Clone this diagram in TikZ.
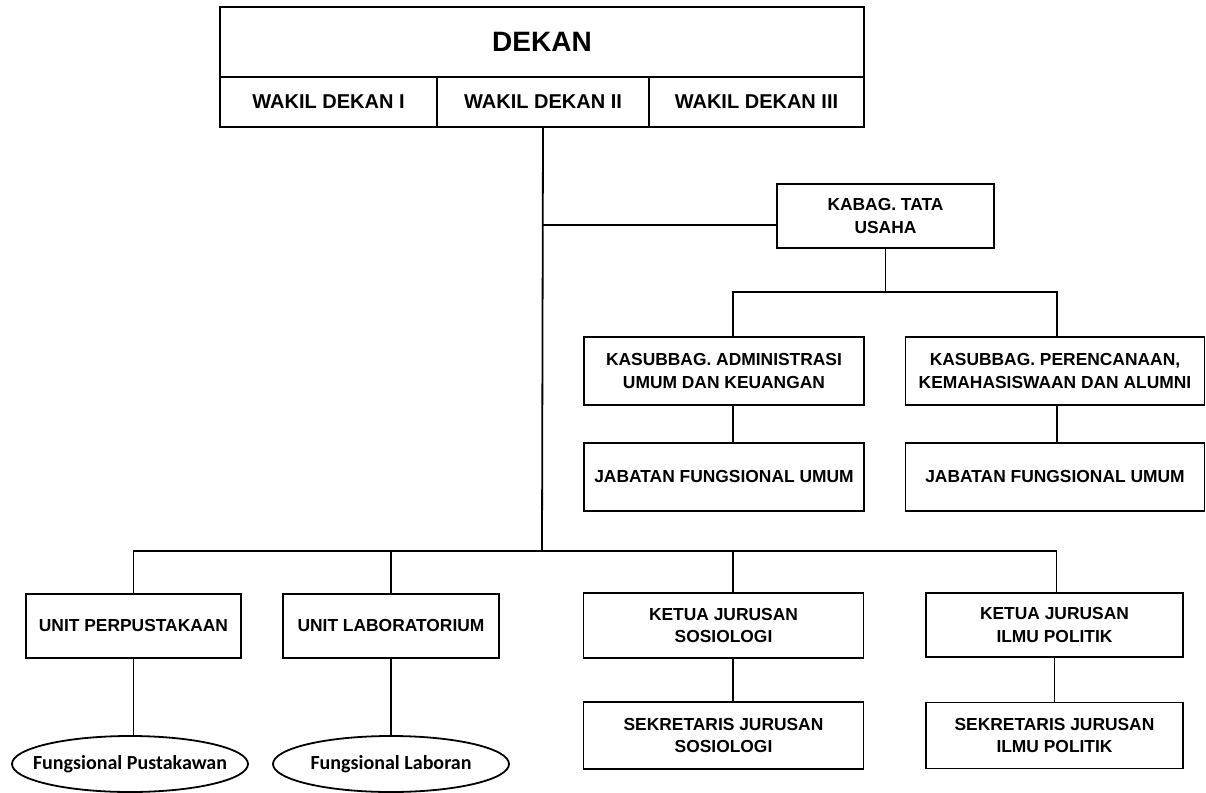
\documentclass[tikz,border=0pt]{standalone}
\usepackage{fontspec}
\setmainfont{Liberation Sans}
\newfontfamily\calibri{Carlito}
\usetikzlibrary{shapes.geometric}
\usetikzlibrary{calc}

\begin{document}
\begin{tikzpicture}[x=0.5pt,y=-0.5pt,-,line width=0.9pt]
	\tikzstyle{box}=[draw, rectangle, inner sep=0pt, align=center, font=\fontsize{8.7}{11.3}\selectfont\bfseries]
	\tikzstyle{fung}=[draw, ellipse, inner xsep=-8pt, inner ysep=0pt, font=\calibri\fontsize{10}{12}\selectfont\bfseries]
	\useasboundingbox (0,0) rectangle (1206,793);
	% pimpinan
	\node[box, minimum width=322pt, minimum height=35pt, font=\fontsize{14}{16}\selectfont\bfseries] (dekan) at (542,42) {DEKAN};
	\node[box, minimum width=108.5pt, minimum height=25pt, font=\fontsize{10}{12}\selectfont\bfseries] (wd1) at (328.5,102) {WAKIL DEKAN I};
	\node[box, minimum width=106pt, minimum height=25pt, font=\fontsize{10}{12}\selectfont\bfseries] (wd2) at (543,102) {WAKIL DEKAN II};
	\node[box, minimum width=107.5pt, minimum height=25pt, font=\fontsize{10}{12}\selectfont\bfseries] (wd3) at (756.5,102) {WAKIL DEKAN III};
	% tata usaha
	\node[box, minimum width=108.5pt, minimum height=32pt] (kabag) at (885.5,216) {KABAG. TATA\\USAHA};
	\node[box, minimum width=140pt, minimum height=34pt] (kaum) at (724,371) {KASUBBAG. ADMINISTRASI\\UMUM DAN KEUANGAN};
	\node[box, minimum width=149.5pt, minimum height=34pt] (kaper) at (1055,371) {KASUBBAG. PERENCANAAN,\\KEMAHASISWAAN DAN ALUMNI};
	\node[box, minimum width=140pt, minimum height=34pt] (jfu1) at (724,477) {JABATAN FUNGSIONAL UMUM};
	\node[box, minimum width=149.5pt, minimum height=34pt] (jfu2) at (1055,477) {JABATAN FUNGSIONAL UMUM};
	% unit dan jurusan
	\node[box, minimum width=107.5pt, minimum height=32pt] (upus) at (133.5,626) {UNIT PERPUSTAKAAN};
	\node[box, minimum width=108pt, minimum height=32pt] (ulab) at (391,626) {UNIT LABORATORIUM};
	\node[box, minimum width=140pt, minimum height=32.5pt] (ksos) at (723.5,625.5) {KETUA JURUSAN\\SOSIOLOGI};
	\node[box, minimum width=128.5pt, minimum height=32pt] (kpol) at (1054.5,625) {KETUA JURUSAN\\ILMU POLITIK};
	\node[box, minimum width=140pt, minimum height=33.5pt] (ssos) at (723.5,735.5) {SEKRETARIS JURUSAN\\SOSIOLOGI};
	\node[box, minimum width=128.5pt, minimum height=33pt] (spol) at (1054.5,735.5) {SEKRETARIS JURUSAN\\ILMU POLITIK};
	\node[fung, minimum width=118pt, minimum height=28pt] (fpus) at (130,764) {Fungsional Pustakawan};
	\node[fung, minimum width=118pt, minimum height=28pt] (flab) at (391,764) {Fungsional Laboran};
	% garis
	\coordinate (tu) at (542,225);
	\coordinate (bar) at (542,551);
	\coordinate (tusplit) at (884,292);
	\draw (wd2.south) -- (bar);
	\draw (tu) -- (tu -| kabag.west);
	\draw (kabag.south) -- (kabag.south |- tusplit);
	\draw ([xshift=4.5pt]kaum.north) |- ([xshift=1pt]kaper.north |- tusplit) -- ([xshift=1pt]kaper.north);
	\draw ([xshift=4.5pt]kaum.south) -- ([xshift=4.5pt]jfu1.north);
	\draw ([xshift=1pt]kaper.south) -- ([xshift=1pt]jfu2.north);
	\draw (upus.north) |- ([xshift=1pt]kpol.north |- bar) -- ([xshift=1pt]kpol.north);
	\draw (ulab.north) -- (ulab.north |- bar);
	\draw ([xshift=4.75pt]ksos.north) -- ([xshift=4.75pt]ksos.north |- bar);
	\draw ([xshift=4.75pt]ksos.south) -- ([xshift=4.75pt]ssos.north);
	\draw (kpol.south) -- (spol.north);
	\draw (upus.south) -- (upus.south |- fpus.north);
	\draw (ulab.south) -- (flab.north);
\end{tikzpicture}
\end{document}
